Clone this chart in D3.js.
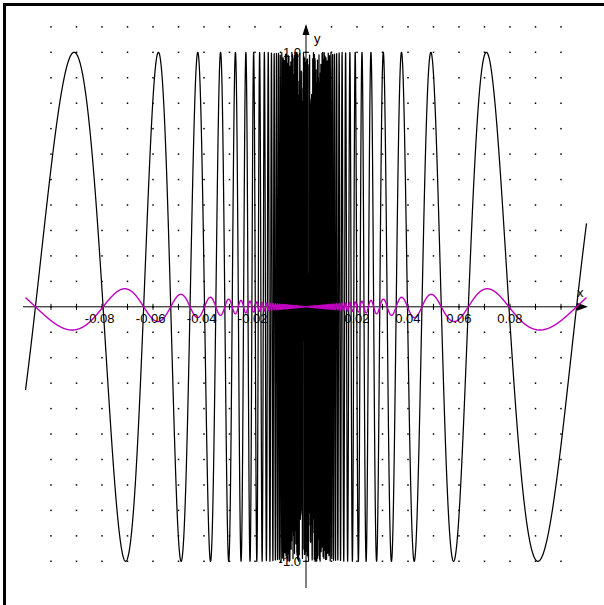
<!DOCTYPE html>
<html>
<head>
<meta charset="utf-8">
<script src="https://cdn.jsdelivr.net/npm/d3@7"></script>
<style>
  html, body { margin: 0; padding: 0; background: #fff; }
  svg { display: block; }
  text { font-family: "Liberation Sans", Arial, sans-serif; }
</style>
</head>
<body>
<script>
// ---- data ----
const xDomain = [-0.11, 0.11];
const yDomain = [-1, 1];
const xTickValues = [-0.10,-0.09,-0.08,-0.07,-0.06,-0.05,-0.04,-0.03,-0.02,-0.01,0.01,0.02,0.03,0.04,0.05,0.06,0.07,0.08,0.09,0.10];
const xTickLabels = ["-0.08","-0.06","-0.04","-0.02","0.02","0.04","0.06","0.08"];
const yTickLabels = ["-1.0","1.0"];
const gridX = [-0.10,-0.09,-0.08,-0.07,-0.06,-0.05,-0.04,-0.03,-0.02,-0.01,0,0.01,0.02,0.03,0.04,0.05,0.06,0.07,0.08,0.09,0.10];
const gridY = [-1.0,-0.9,-0.8,-0.7,-0.6,-0.5,-0.4,-0.3,-0.2,-0.1,0,0.1,0.2,0.3,0.4,0.5,0.6,0.7,0.8,0.9,1.0,1.1];
const seriesNames = ["sin(1/x)", "x·sin(1/x)"];
const seriesColors = ["#000000", "#c000c0"];
const seriesFns = [x => Math.sin(1 / x), x => x * Math.sin(1 / x)];
const sampleCount = 6000;

// ---- chart ----
const W = 604, H = 605;
const svg = d3.select("body").append("svg").attr("width", W).attr("height", H);

const x = d3.scaleLinear().domain(xDomain).range([25.5, 586.5]);
const y = d3.scaleLinear().domain(yDomain).range([561.3, 52.3]);

// frame (left + top visible)
svg.append("rect").attr("x", 4.5).attr("y", 4.5).attr("width", 800).attr("height", 800)
  .attr("fill", "none").attr("stroke", "#000").attr("stroke-width", 3);

// dotted grid
const dots = [];
gridX.forEach(gx => gridY.forEach(gy => dots.push([gx, gy])));
svg.append("g").selectAll("rect").data(dots).join("rect")
  .attr("x", d => x(d[0]) - 0.75).attr("y", d => y(d[1]) - 0.75)
  .attr("width", 1.5).attr("height", 1.5).attr("fill", "#000");

// axes
const x0 = x(0), y0 = y(0);
svg.append("line").attr("x1", 23).attr("x2", 580).attr("y1", y0).attr("y2", y0)
  .attr("stroke", "#000").attr("stroke-width", 1);
svg.append("path").attr("d", `M588,${y0} L577,${y0-4} L577,${y0+4} Z`).attr("fill", "#000");
svg.append("line").attr("x1", x0).attr("x2", x0).attr("y1", 33).attr("y2", 588)
  .attr("stroke", "#000").attr("stroke-width", 1);
svg.append("path").attr("d", `M${x0},24 L${x0-3.5},35 L${x0+3.5},35 Z`).attr("fill", "#000");

// x ticks
svg.append("g").selectAll("line").data(xTickValues).join("line")
  .attr("x1", d => x(d)).attr("x2", d => x(d)).attr("y1", y0 - 3).attr("y2", y0 + 3)
  .attr("stroke", "#000").attr("stroke-width", 1);
// y ticks
svg.append("g").selectAll("line").data(yTickLabels).join("line")
  .attr("x1", x0 - 3).attr("x2", x0 + 3).attr("y1", d => y(+d)).attr("y2", d => y(+d))
  .attr("stroke", "#000").attr("stroke-width", 1);

// curves
const xs = d3.range(sampleCount + 1).map(i => xDomain[0] + (xDomain[1] - xDomain[0]) * i / sampleCount)
  .filter(v => v !== 0);
const line = d3.line().x(d => x(d[0])).y(d => y(d[1]));
seriesFns.forEach((f, i) => {
  svg.append("path").datum(xs.map(v => [v, f(v)]))
    .attr("d", line).attr("fill", "none")
    .attr("stroke", seriesColors[i]).attr("stroke-width", i === 0 ? 1.25 : 1.4)
    .attr("stroke-linejoin", "round");
});

// labels
svg.append("g").selectAll("text").data(xTickLabels).join("text")
  .attr("x", d => x(+d) + 12.5).attr("y", y0 + 16)
  .attr("text-anchor", "end").attr("font-size", 13).attr("fill", "#000").text(d => d);
svg.append("g").selectAll("text").data(yTickLabels).join("text")
  .attr("x", x0 - 5).attr("y", d => y(+d) + 4.5)
  .attr("text-anchor", "end").attr("font-size", 13).attr("fill", "#000").text(d => d);
svg.append("text").attr("x", x0 + 8).attr("y", 43).attr("font-size", 13).text("y");
svg.append("text").attr("x", 577).attr("y", 297).attr("font-size", 13).text("x");
</script>
</body>
</html>
